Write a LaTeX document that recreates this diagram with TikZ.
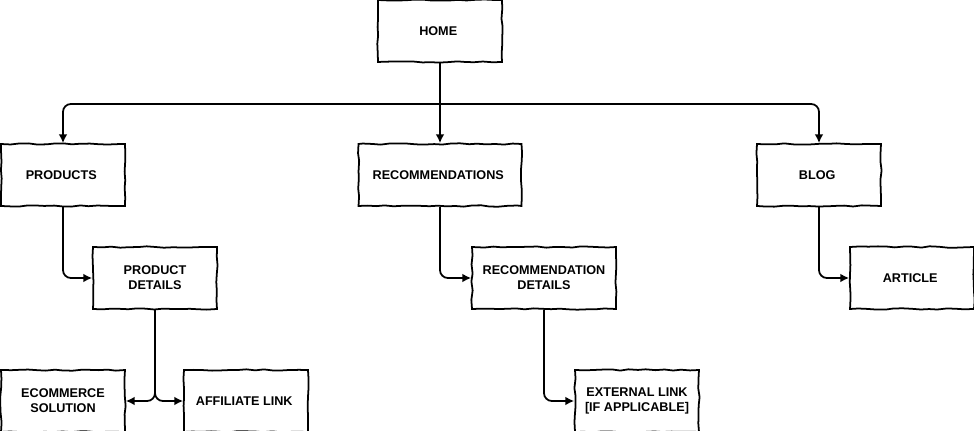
\documentclass[tikz,border=0pt]{standalone}
\usepackage{fontspec}
\setmainfont{Liberation Sans}
\usetikzlibrary{arrows.meta,decorations.pathmorphing}

\begin{document}
\begin{tikzpicture}[x=0.02cm,y=-0.02cm,every path/.style={>={Latex[length=5pt,width=5pt]},line width=1pt},
  every node/.style={draw,rectangle,align=center,minimum width=2.48cm,minimum height=1.24cm,
    font=\fontsize{7.2}{8.6}\selectfont\bfseries,
    decorate,decoration={random steps,segment length=5pt,amplitude=0.4pt}},
  link/.style={->,rounded corners=4.5pt}]
\useasboundingbox (0,0) rectangle (974,431);
\node            (home)     at (440,31)  { HOME };
\node            (products) at (63,175)  { PRODUCTS };
\node[minimum width=3.26cm] (recs) at (440,175) { RECOMMENDATIONS };
\node            (blog)     at (819,175) { BLOG };
\node            (proddet)  at (155,278) { PRODUCT\\DETAILS };
\node[minimum width=2.88cm] (recdet) at (544,278) { RECOMMENDATION\\DETAILS };
\node            (article)  at (912,278) { ARTICLE };
\node            (ecom)     at (63,401)  { ECOMMERCE\\SOLUTION };
\node            (affil)    at (246,401) { AFFILIATE LINK };
\node            (extlink)  at (637,401) { EXTERNAL LINK\\{[}IF APPLICABLE{]}};
\coordinate      (bus)      at (440,104);
\draw[link]           (home) -- (recs);
\draw[link]           (bus) -| (products);
\draw[link]           (bus) -| (blog);
\draw[link]           (products) |- (proddet);
\draw[link]           (recs) |- (recdet);
\draw[link]           (blog) |- (article);
\draw[link]           (proddet) |- (ecom);
\draw[link]           (proddet) |- (affil);
\draw[link]           (recdet) |- (extlink);
\end{tikzpicture}
\end{document}
